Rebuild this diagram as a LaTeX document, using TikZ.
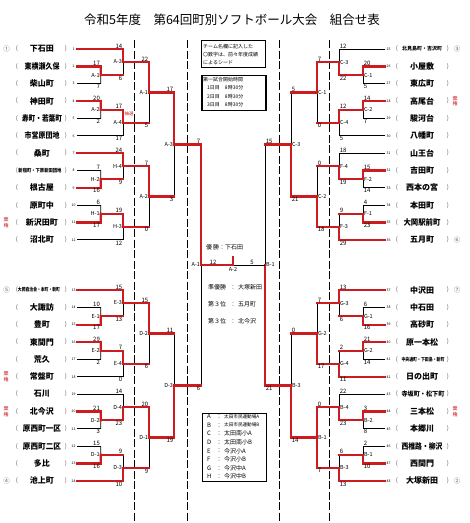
\documentclass[tikz,border=0pt]{standalone}
\usepackage{fontspec}
\usepackage{graphicx}
\setmainfont{Noto Sans CJK JP}
\usetikzlibrary{calc}

\definecolor{brk}{RGB}{205,28,32}
\newcommand{\sq}[2]{\resizebox{#1}{\height}{#2}}
% one bout: name, x of its vertical, top entrant, bottom entrant, style in top, style in bottom, winner (t/b)
\newcommand{\bout}[7]{%
  \coordinate (#1t) at (#2,0 |- #3);
  \coordinate (#1b) at (#2,0 |- #4);
  \coordinate (#1) at ($(#1t)!0.5!(#1b)$);
  \if#7t\draw[lose] (#1) -- (#1b);\else\draw[lose] (#1t) -- (#1);\fi
  \draw[#5] (#3) -- (#1t);
  \draw[#6] (#4) -- (#1b);
  \if#7t\draw[win] (#1t) -- (#1);\else\draw[win] (#1) -- (#1b);\fi}

\tikzset{
  win/.style={brk, line width=2.4pt, line cap=rect},
  lose/.style={black, line width=0.85pt},
  guide/.style={black, line width=0.6pt, dash pattern=on 8pt off 2.5pt},
  sc/.style={font=\fontsize{6}{6}\selectfont, inner sep=0.6pt},
  lbl/.style={font=\fontsize{5.5}{5.5}\selectfont, inner sep=0.8pt},
  num/.style={font=\fontsize{3.5}{3.5}\selectfont, inner sep=0pt},
  paren/.style={font=\fontsize{6}{6}\selectfont, inner sep=0pt, text=black!65},
  team/.style={font=\fontsize{8}{8}\selectfont\bfseries, inner sep=0pt},
  tinyteam/.style={font=\fontsize{5}{5}\selectfont\bfseries, inner sep=0pt},
  seed/.style={font=\fontsize{6.5}{6.5}\selectfont, inner sep=0pt, text=black!60},
  redtag/.style={font=\fontsize{5}{5.6}\selectfont, text=brk, align=center, inner sep=0pt},
  note/.style={font=\fontsize{6}{6}\selectfont, inner sep=0pt, anchor=west},
  small/.style={font=\fontsize{5}{5}\selectfont, inner sep=0pt, anchor=west},
}

\begin{document}
\begin{tikzpicture}[x=1pt,y=-1pt]
\useasboundingbox (0,0) rectangle (470,523);
\fill[white] (0,0) rectangle (470,523);

\node[font=\fontsize{12.5}{12.5}\selectfont] (title) at (232,20) {令和5年度　第64回町別ソフトボール大会　組合せ表};

\foreach \gx in {134,187,279,329}
  \draw[guide] (\gx,40) -- (\gx,523);

% entry lines, numbers, brackets
\foreach \i in {1,...,48} {
  \pgfmathtruncatemacro\k{mod(\i-1,24)+1}
  \pgfmathsetmacro\yy{\k<13 ? 49+(\k-1)*17.35 : 290+(\k-13)*17.35}
  \ifnum\i<25
    \coordinate (p\i) at (77,\yy);
    \node[num] (k\i) at (73.5,\yy) {\i};
    \node[paren] (pl\i) at (17,\yy) {(};
    \node[paren] (pr\i) at (66,\yy) {)};
  \else
    \coordinate (p\i) at (385,\yy);
    \node[num, anchor=west] (k\i) at (386.5,\yy) {\i};
    \node[paren] (pl\i) at (397,\yy) {(};
    \node[paren] (pr\i) at (448,\yy) {)};
  \fi
}

% teams
\foreach \i/\t in {1/下石田, 2/{\sq{35pt}{東横瀬久保}}, 3/柴山町, 4/神田町,
    5/{\sq{40pt}{寿町・若葉町}}, 6/{\sq{35pt}{市営原団地}}, 7/桑町, 9/根古屋,
    10/原町中, 11/新沢田町, 12/沼北町, 14/大諏訪, 15/豊町, 16/東間門, 17/荒久,
    18/常盤町, 19/石川, 20/北今沢, 21/{\sq{38pt}{原西町一区}},
    22/{\sq{38pt}{原西町二区}}, 23/多比, 24/池上町}
  \node[team] (t\i) at (42,0 |- p\i) {\t};
\foreach \i/\t in {26/小屋敷, 27/東広町, 28/高尾台, 29/駿河台, 30/八幡町,
    31/山王台, 32/吉田町, 33/西本の宮, 34/本田町, 35/{\sq{37pt}{大岡駅前町}},
    36/五月町, 37/中沢田, 38/中石田, 39/高砂町, 40/原一本松, 42/日の出町,
    44/三本松, 45/本郷川, 46/{\sq{41pt}{西椎路・柳沢}}, 47/西間門, 48/大塚新田}
  \node[team] (t\i) at (422,0 |- p\i) {\t};
\node[tinyteam] (t8) at (40,0 |- p8) {\sq{43pt}{新宿町・下原新田団地}};
\node[tinyteam] (t13) at (39,0 |- p13) {\sq{42pt}{大岡自治会・本町・新町}};
\node[tinyteam] (t25) at (422,0 |- p25) {\sq{40pt}{北見島町・吉沢町}};
\node[tinyteam] (t41) at (423,0 |- p41) {\sq{43pt}{中央通町・下田島・新町}};
\node[team, font=\fontsize{6.5}{6.5}\selectfont\bfseries] (t43) at (423,0 |- p43) {\sq{43pt}{寺坂町・松下町}};

\foreach \i/\s in {1/①, 13/⑤, 24/④}
  \node[seed] (s\i) at (6.5,0 |- p\i) {\s};
\foreach \i/\s in {25/③, 36/⑥, 37/⑦, 48/②}
  \node[seed] (s\i) at (457,0 |- p\i) {\s};
\foreach \i in {11,18,20}
  \node[redtag] (x\i) at (6,0 |- p\i) {棄\\権};
\foreach \i in {28,44}
  \node[redtag] (x\i) at (455,0 |- p\i) {棄\\権};

% left half
\bout{a1}{100.7}{p2}{p3}{win}{lose}{t}
\bout{a3}{123}{p1}{a1}{win}{win}{t}
\bout{a2}{100.7}{p4}{p5}{win}{lose}{t}
\bout{a4}{123}{a2}{p6}{win}{lose}{t}
\bout{sa1}{149}{a3}{a4}{win}{win}{t}
\bout{h2}{100.7}{p8}{p9}{lose}{win}{b}
\bout{h4}{123}{p7}{h2}{win}{win}{t}
\bout{h1}{100.7}{p10}{p11}{lose}{win}{b}
\bout{h3}{123}{h1}{p12}{win}{lose}{t}
\bout{sa2}{149}{h4}{h3}{win}{win}{t}
\bout{ta3}{174}{sa1}{sa2}{win}{win}{t}
\bout{e1}{100.7}{p14}{p15}{lose}{win}{b}
\bout{e3}{123}{p13}{e1}{win}{win}{t}
\bout{e2}{100.7}{p16}{p17}{win}{lose}{t}
\bout{e4}{123}{e2}{p18}{win}{lose}{t}
\bout{sd2}{149}{e3}{e4}{win}{win}{t}
\bout{d2}{100.7}{p20}{p21}{win}{lose}{t}
\bout{d4}{123}{p19}{d2}{lose}{win}{b}
\bout{d1}{100.7}{p22}{p23}{lose}{win}{b}
\bout{d3}{123}{d1}{p24}{win}{win}{b}
\bout{sd1}{149}{d4}{d3}{win}{win}{t}
\bout{td3}{174}{sd2}{sd1}{win}{win}{b}
\bout{fa1}{201}{ta3}{td3}{win}{win}{t}
% right half
\bout{c1}{363}{p26}{p27}{win}{lose}{t}
\bout{c3}{339}{p25}{c1}{lose}{win}{b}
\bout{c2}{363}{p28}{p29}{win}{lose}{t}
\bout{c4}{339}{c2}{p30}{win}{lose}{t}
\bout{sc1}{317}{c3}{c4}{win}{win}{t}
\bout{f2}{363}{p32}{p33}{win}{lose}{t}
\bout{f4}{339}{p31}{f2}{lose}{win}{b}
\bout{f1}{363}{p34}{p35}{lose}{win}{b}
\bout{f3}{339}{f1}{p36}{win}{win}{b}
\bout{sc2}{317}{f4}{f3}{win}{win}{b}
\bout{tc3}{291}{sc1}{sc2}{win}{win}{b}
\bout{g1}{363}{p38}{p39}{lose}{win}{b}
\bout{g3}{339}{p37}{g1}{win}{win}{t}
\bout{g2}{363}{p40}{p41}{win}{lose}{t}
\bout{g4}{339}{g2}{p42}{win}{win}{b}
\bout{sg2}{317}{g3}{g4}{win}{win}{b}
\bout{b2}{363}{p44}{p45}{win}{lose}{t}
\bout{b4}{339}{p43}{b2}{lose}{win}{b}
\bout{b1}{363}{p46}{p47}{lose}{win}{b}
\bout{b3}{339}{b1}{p48}{win}{win}{b}
\bout{sb1}{317}{b4}{b3}{win}{win}{b}
\draw[win] (sb1t) -- (sb1);
\bout{tb3}{291}{sg2}{sb1}{win}{win}{b}
\bout{fb1}{265}{tc3}{tb3}{win}{win}{b}

% final
\coordinate (fin) at ($(fa1)!0.5!(fb1)$);
\coordinate (cup) at ($(fin)+(0,-8)$);
\draw[lose] (fin) -- (fb1);
\draw[win] (fa1) -- (fin);
\draw[win] (fin) -- (cup);
\node[sc, anchor=south] (fl) at ($(fa1)+(12,0)$) {12};
\node[sc, anchor=south] (fr) at ($(fb1)+(-13,0)$) {5};
\node[lbl, anchor=north] (fn) at ($(fin)+(0,1.5)$) {A-2};

% labels and scores
\foreach \m/\l/\u/\v in {a1/A-1/17/7, a3/A-3/14/6, a2/A-2/20/2, a4/A-4/17/17,
    sa1/A-1/22/5, h2/H-2/7/16, h4/H-4/24/9, h1/H-1/6/17, h3/H-3/19/12,
    sa2/A-2/7/0, ta3/A-3/17/3, e1/E-1/10/17, e3/E-3/15/13, e2/E-2/29/2,
    e4/E-4/7/0, sd2/D-2/15/6, d2/D-2/21/3, d4/D-4/14/23, d1/D-1/15/16,
    d3/D-3/9/10, sd1/D-1/20/9, td3/D-3/11/19, fa1/A-1/7/6} {
  \node[lbl, anchor=east] (l\m) at (\m) {\l};
  \node[sc, anchor=south east] (u\m) at (\m t) {\u};
  \node[sc, anchor=north east] (v\m) at (\m b) {\v};
}
\foreach \m/\l/\u/\v in {c1/C-1/20/5, c3/C-3/12/22, c2/C-2/14/7, c4/C-4/12/5,
    sc1/C-1/7/0, f2/F-2/15/14, f4/F-4/18/19, f1/F-1/4/23, f3/F-3/9/29,
    sc2/C-2/0/18, tc3/C-3/5/21, g1/G-1/6/16, g3/G-3/13/6, g2/G-2/21/14,
    g4/G-4/2/11, sg2/G-2/7/17, b2/B-2/3/8, b4/B-4/22/23, b1/B-1/2/10,
    b3/B-3/6/13, sb1/B-1/0/7, tb3/B-3/0/14, fb1/B-1/15/21} {
  \node[lbl, anchor=west] (l\m) at (\m) {\l};
  \node[sc, anchor=south west] (u\m) at (\m t) {\u};
  \node[sc, anchor=north west] (v\m) at (\m b) {\v};
}
\node[font=\fontsize{4.5}{4.5}\selectfont, text=brk, anchor=west, inner sep=0pt] (lot) at ($(a4)+(1.5,-9)$) {抽選};

% notes
\node[draw, line width=1.2pt, anchor=north west, minimum width=64pt, minimum height=27pt, inner sep=0pt] (memo) at (201,40) {};
\node[small] (m1) at (203,46.5) {チーム名欄に記入した};
\node[small] (m2) at (203,54.5) {〇数字は、前々年度成績};
\node[small] (m3) at (203,62.5) {によるシード};
\node[draw, line width=1.8pt, anchor=north west, minimum width=64pt, minimum height=35pt, inner sep=0pt] (start) at (201,74.5) {};
\node[small] (s0) at (203,79.5) {第一試合開始時間};
\foreach \d/\yy in {1/88,2/96.5,3/105}
  \node[small] (sd\d) at (207,\yy) {{\d}日目　8時30分};

% results
\node[note] (r1) at (206,247) {優\,勝：下石田};
\foreach \j/\a/\b in {0/準優勝/大塚新田, 1/第３位/五月町, 2/第３位/北今沢} {
  \node[note] (ra\j) at (208,287+\j*17) {\a};
  \node[note] (rb\j) at (230,287+\j*17) {：};
  \node[note] (rc\j) at (238,287+\j*17) {\b};
}

% courts
\node[draw, line width=1.6pt, anchor=north west, minimum width=64pt, minimum height=68pt, inner sep=0pt] (court) at (201.5,412.5) {};
\foreach \j/\c/\n in {0/A/{\fontsize{4.6}{4.6}\selectfont 太田市民運動場A}, 1/B/{\fontsize{4.6}{4.6}\selectfont 太田市民運動場B},
    2/C/太田南小A, 3/D/太田南小B, 4/E/今沢小A, 5/F/今沢小B, 6/G/今沢中A, 7/H/今沢中B} {
  \node[note] (ca\j) at (207,416.5+\j*8.6) {\c};
  \node[note] (cb\j) at (216,416.5+\j*8.6) {：};
  \node[note] (cc\j) at (224,416.5+\j*8.6) {\n};
}
\end{tikzpicture}
\end{document}
